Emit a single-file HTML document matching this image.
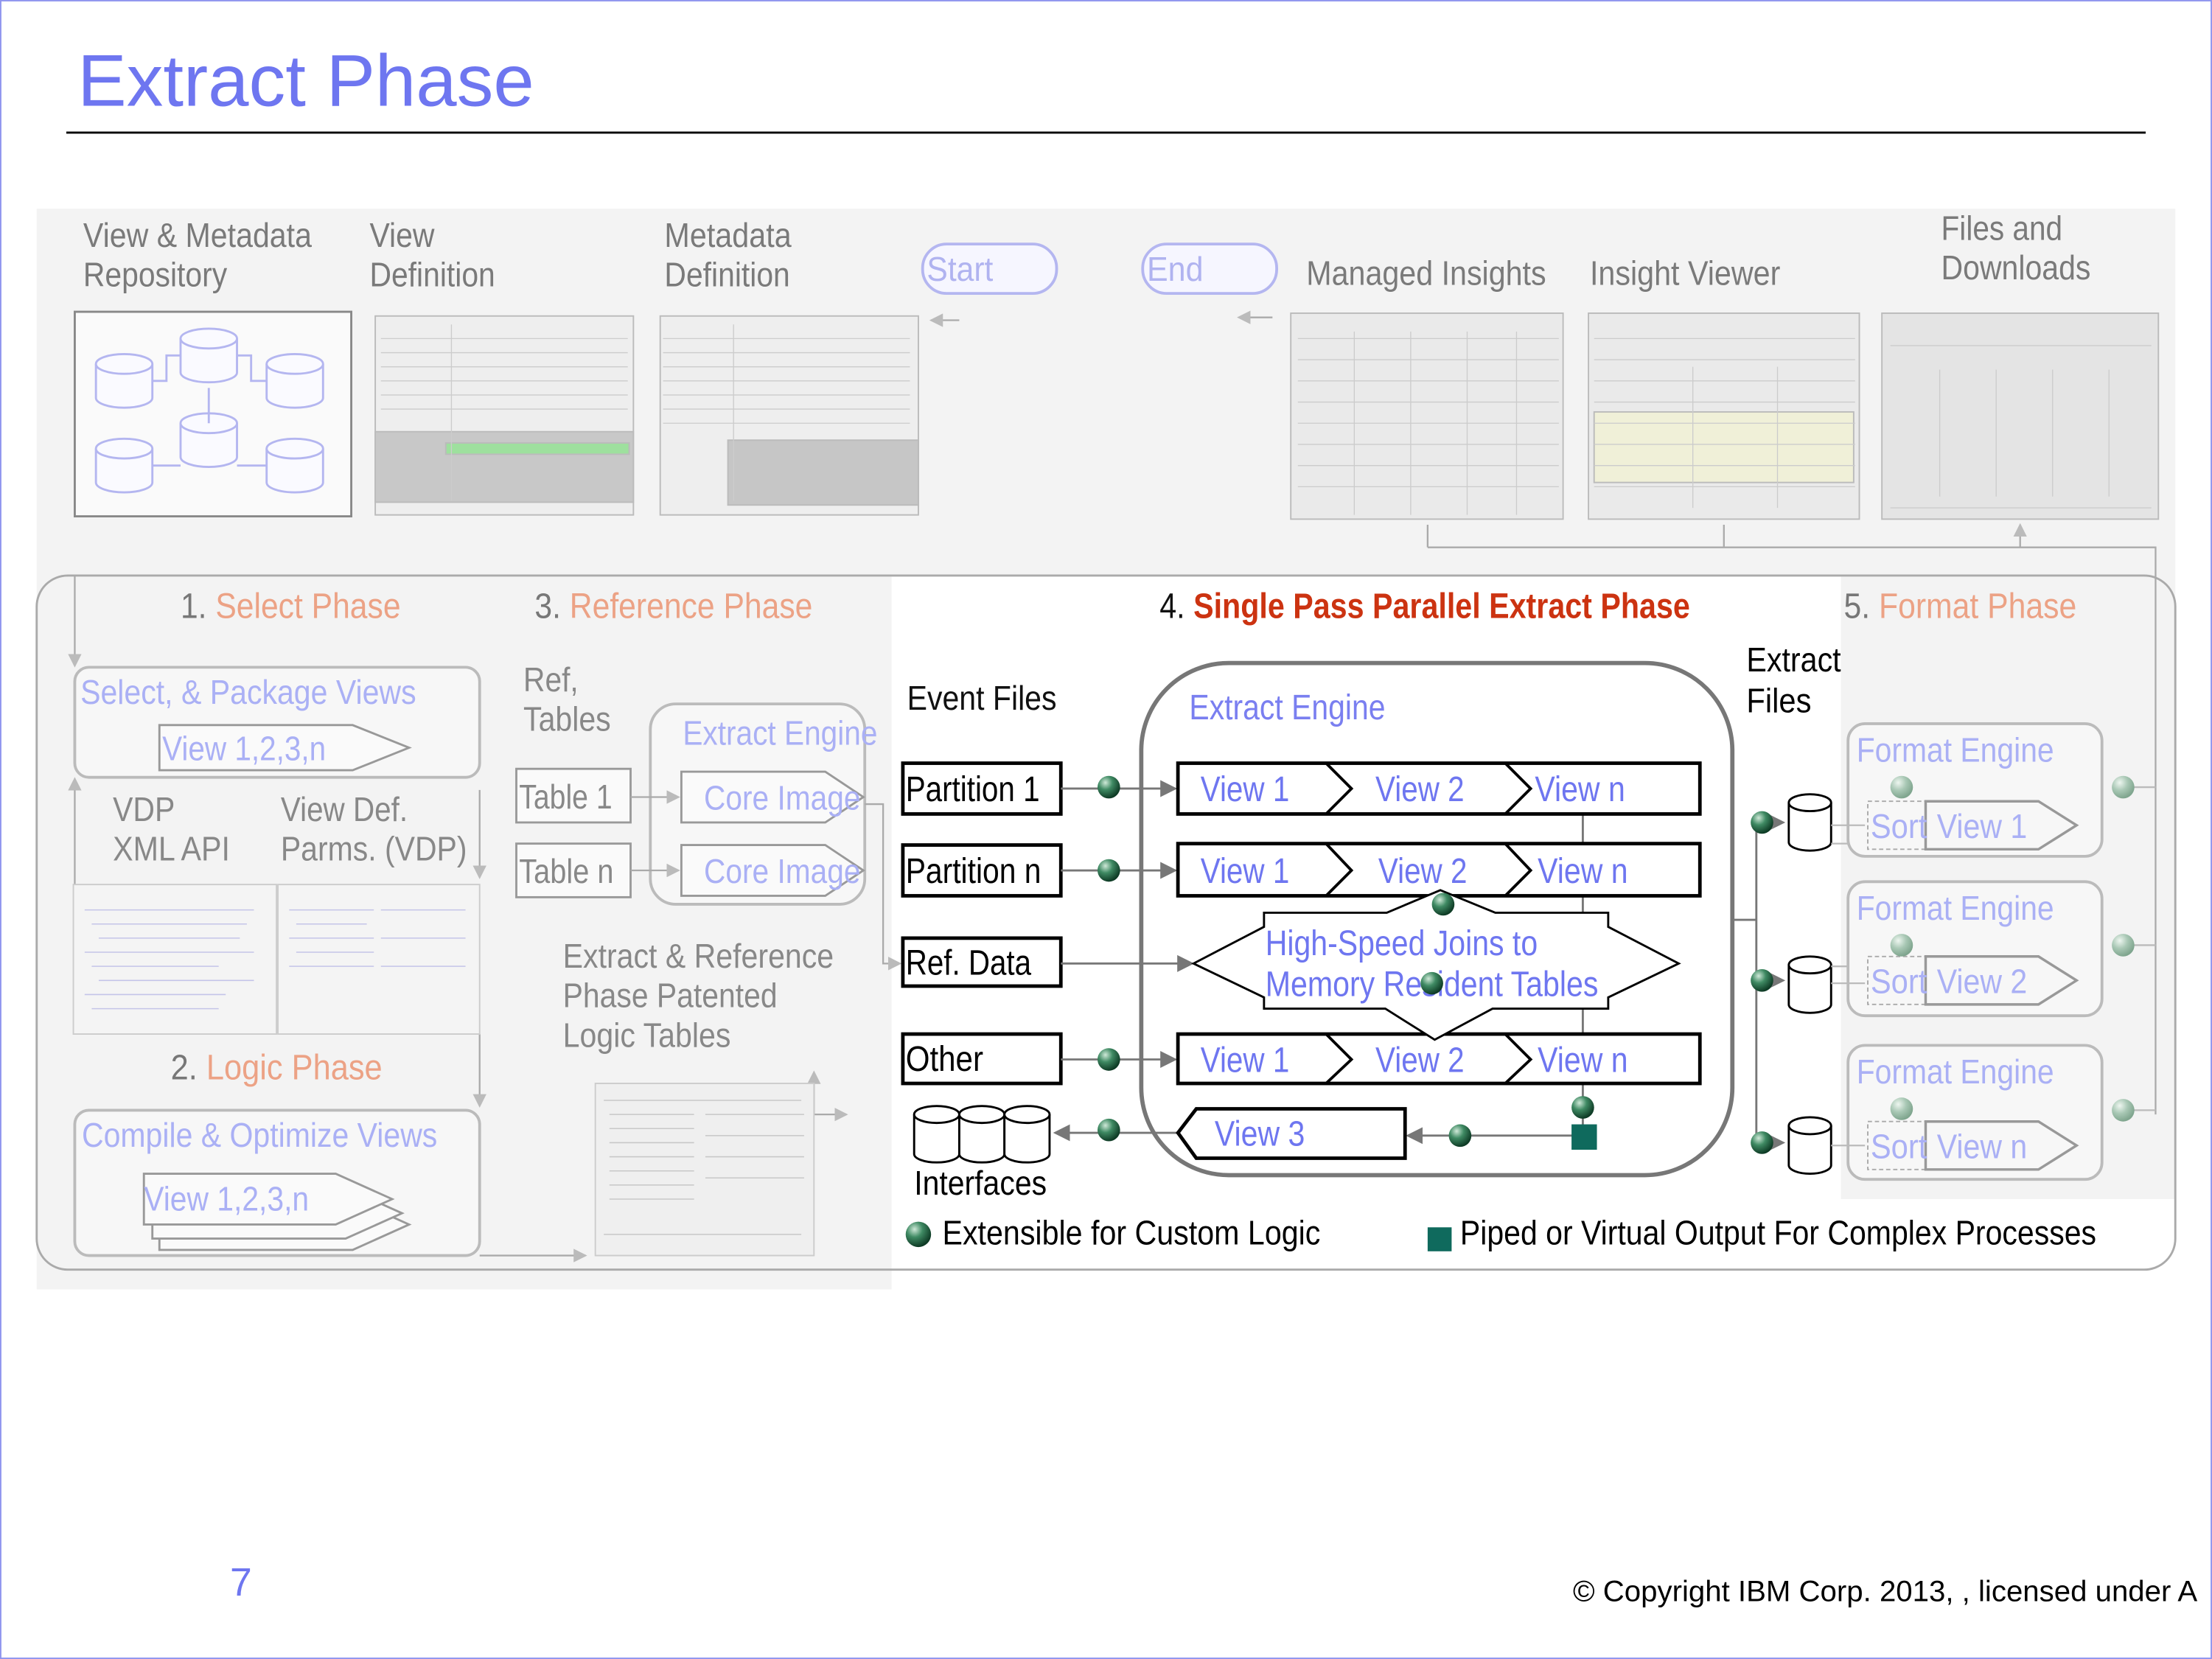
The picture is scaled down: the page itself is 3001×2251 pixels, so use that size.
<!DOCTYPE html>
<html><head><meta charset="utf-8"><style>
html,body{margin:0;padding:0;background:#fff}
svg{display:block}
text{font-family:"Liberation Sans Narrow","Liberation Sans",sans-serif}
</style></head><body>
<svg width="3001" height="2251" viewBox="0 0 1568 1176" preserveAspectRatio="none" xmlns="http://www.w3.org/2000/svg">
<defs>
<radialGradient id="g" cx="0.35" cy="0.3" r="0.7"><stop offset="0" stop-color="#cfe9d8"/><stop offset="0.45" stop-color="#3f8a63"/><stop offset="1" stop-color="#0e3b25"/></radialGradient>
<radialGradient id="gf" cx="0.35" cy="0.3" r="0.7"><stop offset="0" stop-color="#eef6f0"/><stop offset="0.5" stop-color="#a9c8b5"/><stop offset="1" stop-color="#7fa58e"/></radialGradient>
<marker id="ar" markerWidth="8" markerHeight="8" refX="7" refY="4" orient="auto"><path d="M0,0 L8,4 L0,8z" fill="#777"/></marker>
<marker id="arl" markerWidth="8" markerHeight="8" refX="7" refY="4" orient="auto"><path d="M0,0 L8,4 L0,8z" fill="#bbb"/></marker>
</defs>
<rect x="0.5" y="0.5" width="1567" height="1175" fill="#fff" stroke="#8f95ee" stroke-width="1"/>
<text x="55" y="75" font-size="52" fill="#6e76f0" style="font-family:'Liberation Sans',sans-serif">Extract Phase</text>
<line x1="47" y1="94" x2="1521" y2="94" stroke="#000" stroke-width="1.5"/>

<rect x="26" y="148" width="1516" height="260" fill="#f3f3f3"/>
<rect x="26" y="408" width="606" height="506" fill="#f3f3f3"/>
<rect x="1305" y="408" width="237" height="442" fill="#f3f3f3"/>
<rect x="26" y="408" width="1516" height="492" rx="22" fill="none" stroke="#aaa" stroke-width="1.5"/>

<g fill="#7a7a7a" font-size="24" lengthAdjust="spacingAndGlyphs">
<text x="59" y="175" textLength="162" lengthAdjust="spacingAndGlyphs">View &amp; Metadata</text><text x="59" y="203" textLength="102" lengthAdjust="spacingAndGlyphs">Repository</text>
<text x="262" y="175" textLength="46" lengthAdjust="spacingAndGlyphs">View</text><text x="262" y="203" textLength="89" lengthAdjust="spacingAndGlyphs">Definition</text>
<text x="471" y="175" textLength="90" lengthAdjust="spacingAndGlyphs">Metadata</text><text x="471" y="203" textLength="89" lengthAdjust="spacingAndGlyphs">Definition</text>
<text x="926" y="202" textLength="170" lengthAdjust="spacingAndGlyphs">Managed Insights</text>
<text x="1127" y="202" textLength="135" lengthAdjust="spacingAndGlyphs">Insight Viewer</text>
<text x="1376" y="170" textLength="86" lengthAdjust="spacingAndGlyphs">Files and</text><text x="1376" y="198" textLength="106" lengthAdjust="spacingAndGlyphs">Downloads</text>
</g>
<rect x="53" y="221" width="196" height="145" fill="#fafafa" stroke="#888" stroke-width="1.5"/>
<g fill="#fafaff" stroke="#b4b6f0" stroke-width="1.5">
<path d="M68,258 v24 a20,7 0 0 0 40,0 v-24"/><ellipse cx="88" cy="258" rx="20" ry="7"/>
<path d="M128,240 v24 a20,7 0 0 0 40,0 v-24"/><ellipse cx="148" cy="240" rx="20" ry="7"/>
<path d="M189,258 v24 a20,7 0 0 0 40,0 v-24"/><ellipse cx="209" cy="258" rx="20" ry="7"/>
<path d="M68,318 v24 a20,7 0 0 0 40,0 v-24"/><ellipse cx="88" cy="318" rx="20" ry="7"/>
<path d="M128,300 v24 a20,7 0 0 0 40,0 v-24"/><ellipse cx="148" cy="300" rx="20" ry="7"/>
<path d="M189,318 v24 a20,7 0 0 0 40,0 v-24"/><ellipse cx="209" cy="318" rx="20" ry="7"/>
</g>
<g stroke="#b4b6f0" stroke-width="1.5" fill="none"><path d="M108,270 h10 v-18 h10 M168,252 h10 v18 h11 M148,275 v25 M108,330 h20 M168,330 h21"/></g>
<g stroke="#bbb" stroke-width="1">
<rect x="266" y="224" width="183" height="141" fill="#eee"/><rect x="266" y="306" width="183" height="50" fill="#c8c8c8"/><rect x="316" y="314" width="130" height="8" fill="#9ee09e"/>
<rect x="468" y="224" width="183" height="141" fill="#eee"/><rect x="516" y="312" width="135" height="46" fill="#c6c6c6"/>
<rect x="915" y="222" width="193" height="146" fill="#eaeaea"/>
<rect x="1126" y="222" width="192" height="146" fill="#eaeaea"/><rect x="1130" y="292" width="184" height="50" fill="#f0f0d8"/>
<rect x="1334" y="222" width="196" height="146" fill="#e4e4e4"/>
</g>
<g stroke="#ccc" stroke-width="0.7">
<path d="M270,240h175M270,250h175M270,260h175M270,270h175M270,280h175M270,290h175M320,230v125M470,240h175M470,250h175M470,260h175M470,270h175M470,280h175M470,290h175M470,300h175M520,230v125"/>
<path d="M920,240h185M920,255h185M920,270h185M920,285h185M920,300h185M920,315h185M920,330h185M920,345h185M960,235v130M1000,235v130M1040,235v130M1075,235v130"/>
<path d="M1130,240h185M1130,255h185M1130,270h185M1130,285h185M1130,300h185M1130,315h185M1130,330h185M1130,345h185M1200,260v100M1260,260v100"/>
<path d="M1340,245h185M1340,360h185M1375,262v90M1415,262v90M1455,262v90M1495,262v90"/>
</g>
<rect x="654" y="173" width="95" height="35" rx="17" fill="#f6f6ff" stroke="#b4b6f0" stroke-width="2"/><text x="657" y="199" font-size="24" fill="#b0b3f0" textLength="47" lengthAdjust="spacingAndGlyphs">Start</text>
<rect x="810" y="173" width="95" height="35" rx="17" fill="#f6f6ff" stroke="#b4b6f0" stroke-width="2"/><text x="813" y="199" font-size="24" fill="#b0b3f0" textLength="40" lengthAdjust="spacingAndGlyphs">End</text>
<g stroke="#aaa" stroke-width="1.2" fill="none">
<line x1="680" y1="227" x2="660" y2="227" marker-end="url(#arl)"/><line x1="902" y1="225" x2="878" y2="225" marker-end="url(#arl)"/>
<path d="M1012,388 v-16 M1222,388 v-16 M1432,388 v-16" marker-end="url(#arl)"/>
<path d="M1012,388 H1528 V790"/>
<path d="M53,408 V472" marker-end="url(#arl)"/>
</g>

<text x="128" y="438" font-size="25" fill="#777" textLength="156" lengthAdjust="spacingAndGlyphs">1. <tspan fill="#eca285">Select Phase</tspan></text>
<rect x="53" y="473" width="287" height="78" rx="10" fill="#f7f7f7" stroke="#bbb" stroke-width="2"/>
<text x="57" y="499" font-size="24" fill="#aab0f5" textLength="238" lengthAdjust="spacingAndGlyphs">Select, &amp; Package Views</text>
<path d="M113,514 H250 L290,530 L250,546 H113z" fill="#fafafa" stroke="#999" stroke-width="1.5"/>
<text x="115" y="539" font-size="24" fill="#aab0f5" textLength="116" lengthAdjust="spacingAndGlyphs">View 1,2,3,n</text>
<g font-size="24" fill="#888"><text x="80" y="582" textLength="44" lengthAdjust="spacingAndGlyphs">VDP</text><text x="80" y="610" textLength="83" lengthAdjust="spacingAndGlyphs">XML API</text><text x="199" y="582" textLength="90" lengthAdjust="spacingAndGlyphs">View Def.</text><text x="199" y="610" textLength="132" lengthAdjust="spacingAndGlyphs">Parms. (VDP)</text></g>
<g stroke="#aaa" stroke-width="1.2" fill="none">
<path d="M53,627 V552" marker-end="url(#arl)"/><path d="M340,560 V622" marker-end="url(#arl)"/><path d="M340,733 V784" marker-end="url(#arl)"/>
<path d="M340,890 H415" marker-end="url(#arl)"/>
</g>
<rect x="52" y="627" width="144" height="106" fill="#f4f4f4" stroke="#ccc"/><rect x="197" y="627" width="143" height="106" fill="#f4f4f4" stroke="#ccc"/>
<g stroke="#c4c4e8" stroke-width="0.8"><path d="M60,645h120M65,655h110M70,665h100M60,675h120M65,685h90M70,695h110M60,705h100M65,715h90M205,645h60M210,655h50M205,665h60M210,675h55M205,685h60M270,645h60M270,665h60M270,685h60"/></g>
<text x="121" y="765" font-size="25" fill="#777" textLength="150" lengthAdjust="spacingAndGlyphs">2. <tspan fill="#eca285">Logic Phase</tspan></text>
<rect x="53" y="787" width="287" height="103" rx="10" fill="#f7f7f7" stroke="#bbb" stroke-width="2"/>
<text x="58" y="813" font-size="24" fill="#aab0f5" textLength="252" lengthAdjust="spacingAndGlyphs">Compile &amp; Optimize Views</text>
<g fill="#fafafa" stroke="#999" stroke-width="1.5">
<path d="M113,850 H250 L290,868 L250,886 H113z"/><path d="M108,842 H245 L285,860 L245,878 H108z"/><path d="M102,832 H238 L278,850 L238,868 H102z"/>
</g>
<text x="102" y="858" font-size="24" fill="#aab0f5" textLength="117" lengthAdjust="spacingAndGlyphs">View 1,2,3,n</text>

<text x="379" y="438" font-size="25" fill="#777" textLength="197" lengthAdjust="spacingAndGlyphs">3. <tspan fill="#eca285">Reference Phase</tspan></text>
<g font-size="24" fill="#888"><text x="371" y="490" textLength="39" lengthAdjust="spacingAndGlyphs">Ref,</text><text x="371" y="518" textLength="62" lengthAdjust="spacingAndGlyphs">Tables</text>
<text x="399" y="686" textLength="192" lengthAdjust="spacingAndGlyphs">Extract &amp; Reference</text><text x="399" y="714" textLength="152" lengthAdjust="spacingAndGlyphs">Phase Patented</text><text x="399" y="742" textLength="119" lengthAdjust="spacingAndGlyphs">Logic Tables</text></g>
<rect x="366" y="545" width="81" height="38" fill="#fafafa" stroke="#999" stroke-width="1.5"/><text x="368" y="573" font-size="24" fill="#888" textLength="66" lengthAdjust="spacingAndGlyphs">Table 1</text>
<rect x="366" y="598" width="81" height="38" fill="#fafafa" stroke="#999" stroke-width="1.5"/><text x="368" y="626" font-size="24" fill="#888" textLength="67" lengthAdjust="spacingAndGlyphs">Table n</text>
<rect x="461" y="499" width="152" height="142" rx="18" fill="#f7f7f7" stroke="#bbb" stroke-width="2"/>
<text x="484" y="528" font-size="24" fill="#aab0f5" textLength="138" lengthAdjust="spacingAndGlyphs">Extract Engine</text>
<path d="M483,547 H585 L612,565 L585,583 H483z" fill="#fafafa" stroke="#999" stroke-width="1.5"/>
<path d="M483,599 H585 L612,617 L585,635 H483z" fill="#fafafa" stroke="#999" stroke-width="1.5"/>
<text x="499" y="574" font-size="24" fill="#aab0f5" textLength="111" lengthAdjust="spacingAndGlyphs">Core Image</text><text x="499" y="626" font-size="24" fill="#aab0f5" textLength="111" lengthAdjust="spacingAndGlyphs">Core Image</text>
<g stroke="#aaa" stroke-width="1.2" fill="none">
<line x1="447" y1="565" x2="481" y2="565" marker-end="url(#arl)"/><line x1="447" y1="617" x2="481" y2="617" marker-end="url(#arl)"/>
<path d="M613,570 H626 V683 H638" marker-end="url(#arl)"/>
<path d="M577,790 V760" marker-end="url(#arl)"/><path d="M577,790 H600" marker-end="url(#arl)"/>
</g>
<rect x="422" y="768" width="155" height="122" fill="#efefef" stroke="#ccc"/>
<g stroke="#c8c8c8" stroke-width="0.8"><path d="M428,780h140M432,790h60M432,800h60M432,810h60M432,820h60M432,830h60M432,840h60M432,850h60M500,790h70M500,805h70M500,820h70M500,835h70M428,875h140"/></g>

<text x="822" y="438" font-size="25" fill="#111" textLength="376" lengthAdjust="spacingAndGlyphs">4. <tspan fill="#cc3311" font-weight="bold">Single Pass Parallel Extract Phase</tspan></text>
<text x="643" y="503" font-size="24" fill="#111" textLength="106" lengthAdjust="spacingAndGlyphs">Event Files</text>
<rect x="809" y="470" width="419" height="363" rx="62" fill="#fff" stroke="#777" stroke-width="3"/>
<text x="843" y="510" font-size="25" fill="#7a7ff0" textLength="139" lengthAdjust="spacingAndGlyphs">Extract Engine</text>
<g fill="#fff" stroke="#000" stroke-width="2.5">
<rect x="640" y="541" width="112" height="36"/><rect x="640" y="599" width="112" height="36"/><rect x="640" y="665" width="112" height="34"/><rect x="640" y="733" width="112" height="35"/>
</g>
<g font-size="25" fill="#000"><text x="642" y="568" textLength="95" lengthAdjust="spacingAndGlyphs">Partition 1</text><text x="642" y="626" textLength="96" lengthAdjust="spacingAndGlyphs">Partition n</text><text x="642" y="691" textLength="89" lengthAdjust="spacingAndGlyphs">Ref. Data</text><text x="642" y="759" textLength="55" lengthAdjust="spacingAndGlyphs">Other</text></g>
<g stroke="#777" stroke-width="1.5" fill="none">
<line x1="752" y1="559" x2="833" y2="559" marker-end="url(#ar)"/>
<line x1="752" y1="617" x2="833" y2="617" marker-end="url(#ar)"/>
<line x1="752" y1="683" x2="845" y2="683" marker-end="url(#ar)"/>
<line x1="752" y1="751" x2="833" y2="751" marker-end="url(#ar)"/>
<line x1="1122" y1="577" x2="1122" y2="800"/>
<line x1="1120" y1="805" x2="998" y2="805" marker-end="url(#ar)"/>
<line x1="835" y1="803" x2="748" y2="803" marker-end="url(#ar)"/>
<path d="M1228,652 H1245 M1245,583 V810"/>
<line x1="1245" y1="583" x2="1264" y2="583" marker-end="url(#ar)"/><line x1="1245" y1="695" x2="1264" y2="695" marker-end="url(#ar)"/><line x1="1245" y1="810" x2="1264" y2="810" marker-end="url(#ar)"/>
</g>
<g fill="#fff" stroke="#000" stroke-width="2.5">
<rect x="835" y="541" width="370" height="36"/><rect x="835" y="598" width="370" height="37"/><rect x="835" y="733" width="370" height="35"/>
</g>
<g fill="none" stroke="#000" stroke-width="2">
<path d="M940,541 L958,559 L940,577 M1067,541 L1085,559 L1067,577"/>
<path d="M940,598 L958,617 L940,635 M1067,598 L1085,617 L1067,635"/>
<path d="M940,733 L958,751 L940,768 M1067,733 L1085,751 L1067,768"/>
</g>
<g font-size="25" fill="#6e76f0">
<text x="851" y="568" textLength="63" lengthAdjust="spacingAndGlyphs">View 1</text><text x="975" y="568" textLength="63" lengthAdjust="spacingAndGlyphs">View 2</text><text x="1088" y="568" textLength="64" lengthAdjust="spacingAndGlyphs">View n</text>
<text x="851" y="626" textLength="63" lengthAdjust="spacingAndGlyphs">View 1</text><text x="977" y="626" textLength="63" lengthAdjust="spacingAndGlyphs">View 2</text><text x="1090" y="626" textLength="64" lengthAdjust="spacingAndGlyphs">View n</text>
<text x="851" y="760" textLength="63" lengthAdjust="spacingAndGlyphs">View 1</text><text x="975" y="760" textLength="63" lengthAdjust="spacingAndGlyphs">View 2</text><text x="1090" y="760" textLength="64" lengthAdjust="spacingAndGlyphs">View n</text>
</g>
<path d="M846,683 L896,657 V647 H983 L1021,631 L1060,647 H1140 V657 L1190,683 L1140,707 V715 H1058 L1017,737 L982,715 H896 V707z" fill="#fff" stroke="#000" stroke-width="1.5"/>
<g font-size="25" fill="#6e76f0"><text x="897" y="677" textLength="193" lengthAdjust="spacingAndGlyphs">High-Speed Joins to</text><text x="897" y="706" textLength="236" lengthAdjust="spacingAndGlyphs">Memory Resident Tables</text></g>
<path d="M835,803 L848,786 H996 V821 H848z" fill="#fff" stroke="#000" stroke-width="2.5"/>
<text x="861" y="812" font-size="25" fill="#6e76f0" textLength="64" lengthAdjust="spacingAndGlyphs">View 3</text>
<rect x="1114" y="797" width="18" height="18" fill="#0f6a5d"/>
<g fill="#fff" stroke="#000" stroke-width="1.5">
<path d="M648,790 v28 a16,6 0 0 0 32,0 v-28"/><ellipse cx="664" cy="790" rx="16" ry="6"/>
<path d="M680,790 v28 a16,6 0 0 0 32,0 v-28"/><ellipse cx="696" cy="790" rx="16" ry="6"/>
<path d="M712,790 v28 a16,6 0 0 0 32,0 v-28"/><ellipse cx="728" cy="790" rx="16" ry="6"/>
<path d="M1268,569 v28 a15,6 0 0 0 30,0 v-28"/><ellipse cx="1283" cy="569" rx="15" ry="6"/>
<path d="M1268,684 v28 a15,6 0 0 0 30,0 v-28"/><ellipse cx="1283" cy="684" rx="15" ry="6"/>
<path d="M1268,798 v28 a15,6 0 0 0 30,0 v-28"/><ellipse cx="1283" cy="798" rx="15" ry="6"/>
</g>
<text x="648" y="847" font-size="24" fill="#000" textLength="94" lengthAdjust="spacingAndGlyphs">Interfaces</text>
<g fill="url(#g)">
<circle cx="786" cy="558" r="8"/><circle cx="786" cy="617" r="8"/><circle cx="786" cy="751" r="8"/><circle cx="786" cy="801" r="8"/>
<circle cx="1023" cy="641" r="8"/><circle cx="1015" cy="697" r="8"/><circle cx="1122" cy="785" r="8"/><circle cx="1035" cy="805" r="8"/>
<circle cx="1249" cy="583" r="8"/><circle cx="1249" cy="695" r="8"/><circle cx="1249" cy="810" r="8"/>
<circle cx="651" cy="875" r="9"/>
</g>
<text x="1238" y="476" font-size="24" fill="#000" textLength="67" lengthAdjust="spacingAndGlyphs">Extract</text><text x="1238" y="505" font-size="24" fill="#000" textLength="46" lengthAdjust="spacingAndGlyphs">Files</text>
<text x="668" y="882" font-size="24" fill="#000" textLength="268" lengthAdjust="spacingAndGlyphs">Extensible for Custom Logic</text>
<rect x="1012" y="870" width="17" height="17" fill="#0f6a5d"/>
<text x="1035" y="882" font-size="24" fill="#000" textLength="451" lengthAdjust="spacingAndGlyphs">Piped or Virtual Output For Complex Processes</text>

<text x="1307" y="438" font-size="25" fill="#777" textLength="165" lengthAdjust="spacingAndGlyphs">5. <tspan fill="#eca285">Format Phase</tspan></text>
<g>
<rect x="1310" y="513" width="180" height="94" rx="12" fill="#f7f7f7" stroke="#bbb" stroke-width="2"/>
<rect x="1310" y="625" width="180" height="95" rx="12" fill="#f7f7f7" stroke="#bbb" stroke-width="2"/>
<rect x="1310" y="741" width="180" height="95" rx="12" fill="#f7f7f7" stroke="#bbb" stroke-width="2"/>
</g>
<g font-size="24" fill="#aab0f5"><text x="1316" y="540" textLength="140" lengthAdjust="spacingAndGlyphs">Format Engine</text><text x="1316" y="652" textLength="140" lengthAdjust="spacingAndGlyphs">Format Engine</text><text x="1316" y="768" textLength="140" lengthAdjust="spacingAndGlyphs">Format Engine</text></g>
<g fill="none" stroke="#aaa" stroke-width="1" stroke-dasharray="3,2"><rect x="1324" y="568" width="41" height="34"/><rect x="1324" y="678" width="41" height="34"/><rect x="1324" y="795" width="41" height="34"/></g>
<g fill="none" stroke="#999" stroke-width="1.8"><path d="M1365,568 H1445 L1472,585 L1445,602 H1365z"/><path d="M1365,678 H1445 L1472,695 L1445,712 H1365z"/><path d="M1365,795 H1445 L1472,812 L1445,829 H1365z"/></g>
<g font-size="24" fill="#aab0f5">
<text x="1326" y="594" textLength="40" lengthAdjust="spacingAndGlyphs">Sort</text><text x="1373" y="594" textLength="64" lengthAdjust="spacingAndGlyphs">View 1</text>
<text x="1326" y="704" textLength="40" lengthAdjust="spacingAndGlyphs">Sort</text><text x="1373" y="704" textLength="64" lengthAdjust="spacingAndGlyphs">View 2</text>
<text x="1326" y="821" textLength="40" lengthAdjust="spacingAndGlyphs">Sort</text><text x="1373" y="821" textLength="64" lengthAdjust="spacingAndGlyphs">View n</text></g>
<g stroke="#bbb" stroke-width="1.2" fill="none"><path d="M1298,585 H1322 M1298,697 H1322 M1298,812 H1322 M1298,598 H1310 M1298,685 H1310 M1505,558 H1528 M1505,670 H1528 M1505,787 H1528"/></g>
<g fill="url(#gf)"><circle cx="1348" cy="558" r="8"/><circle cx="1348" cy="670" r="8"/><circle cx="1348" cy="786" r="8"/><circle cx="1505" cy="558" r="8"/><circle cx="1505" cy="670" r="8"/><circle cx="1505" cy="787" r="8"/></g>

<text x="163" y="1131" font-size="28" fill="#6e76f0" style="font-family:'Liberation Sans',sans-serif">7</text>
<text x="1115" y="1135" font-size="21" fill="#000" style="font-family:'Liberation Sans',sans-serif">© Copyright IBM Corp. 2013, , licensed under A</text>
</svg>
</body></html>
